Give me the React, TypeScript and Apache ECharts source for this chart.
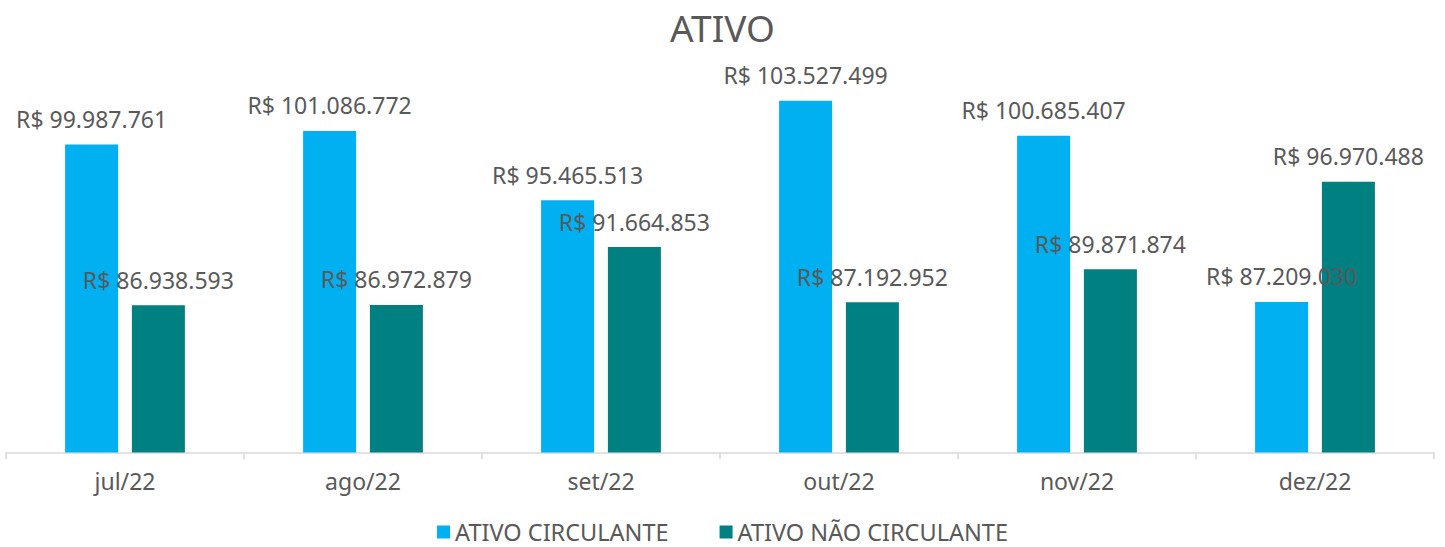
import React, { useEffect, useRef } from "react";
import * as echarts from "echarts";

const categories = ["jul/22", "ago/22", "set/22", "out/22", "nov/22", "dez/22"];
const ativoCirculante = [99987761, 101086772, 95465513, 103527499, 100685407, 87209030];
const ativoNaoCirculante = [86938593, 86972879, 91664853, 87192952, 89871874, 96970488];
const seriesNames = ["ATIVO CIRCULANTE", "ATIVO NÃO CIRCULANTE"];

const FONT = "'Noto Sans', sans-serif";
const GRAY = "#595959";

function fmt(v: number): string {
  const s = Math.round(v).toString().replace(/\B(?=(\d{3})+(?!\d))/g, ".");
  return "R$ " + s;
}

export default function App() {
  const ref = useRef<HTMLDivElement>(null);
  useEffect(() => {
    if (!ref.current) return;
    const chart = echarts.init(ref.current, null, { renderer: "svg" });
    const label = {
      show: true,
      position: "top" as const,
      distance: 14,
      color: GRAY,
      fontFamily: FONT,
      fontSize: 23,
      formatter: (p: any) => fmt(p.value),
    };
    const xBase = {
      type: "category",
      data: categories,
    };
    chart.setOption({
      animation: false,
      backgroundColor: "#ffffff",
      title: {
        text: "ATIVO",
        left: "center",
        top: 9,
        padding: 0,
        textStyle: { color: GRAY, fontFamily: FONT, fontSize: 37, fontWeight: "normal" },
      },
      legend: {
        top: 520,
        padding: 0,
        left: "center",
        icon: "rect",
        itemWidth: 13,
        itemHeight: 13,
        itemGap: 51,
        textStyle: { color: GRAY, fontFamily: FONT, fontSize: 23.5 },
        data: seriesNames,
      },
      grid: { left: 6, right: 11, top: 21, bottom: 94.5, containLabel: false },
      xAxis: [
        {
          ...xBase,
          axisLine: { lineStyle: { color: "#D9D9D9", width: 1.5 } },
          axisTick: { show: true, length: 7, lineStyle: { color: "#D9D9D9", width: 1.5 } },
          axisLabel: { color: GRAY, fontFamily: FONT, fontSize: 23, margin: 17 },
        },
        { ...xBase, show: false },
      ],
      yAxis: {
        type: "value",
        min: 75000000,
        max: 110000000,
        show: false,
        splitLine: { show: false },
      },
      series: [
        {
          name: seriesNames[0],
          type: "bar",
          xAxisIndex: 0,
          data: ativoCirculante,
          barWidth: 53,
          barGap: "26%",
          z: 2,
          itemStyle: { color: "#00B0F0" },
        },
        {
          name: seriesNames[1],
          type: "bar",
          xAxisIndex: 0,
          data: ativoNaoCirculante,
          barWidth: 53,
          barGap: "26%",
          z: 2,
          itemStyle: { color: "#008080" },
        },
        {
          name: "labels-ac",
          type: "bar",
          xAxisIndex: 1,
          data: ativoCirculante,
          barWidth: 53,
          barGap: "26%",
          z: 10,
          silent: true,
          itemStyle: { color: "rgba(0,0,0,0)" },
          label,
        },
        {
          name: "labels-nc",
          type: "bar",
          xAxisIndex: 1,
          data: ativoNaoCirculante,
          barWidth: 53,
          barGap: "26%",
          z: 10,
          silent: true,
          itemStyle: { color: "rgba(0,0,0,0)" },
          label,
        },
      ],
    });
    return () => chart.dispose();
  }, []);
  return (
    <div
      ref={ref}
      style={{ position: "absolute", left: 0, top: 0, width: 1445, height: 547 }}
    />
  );
}
